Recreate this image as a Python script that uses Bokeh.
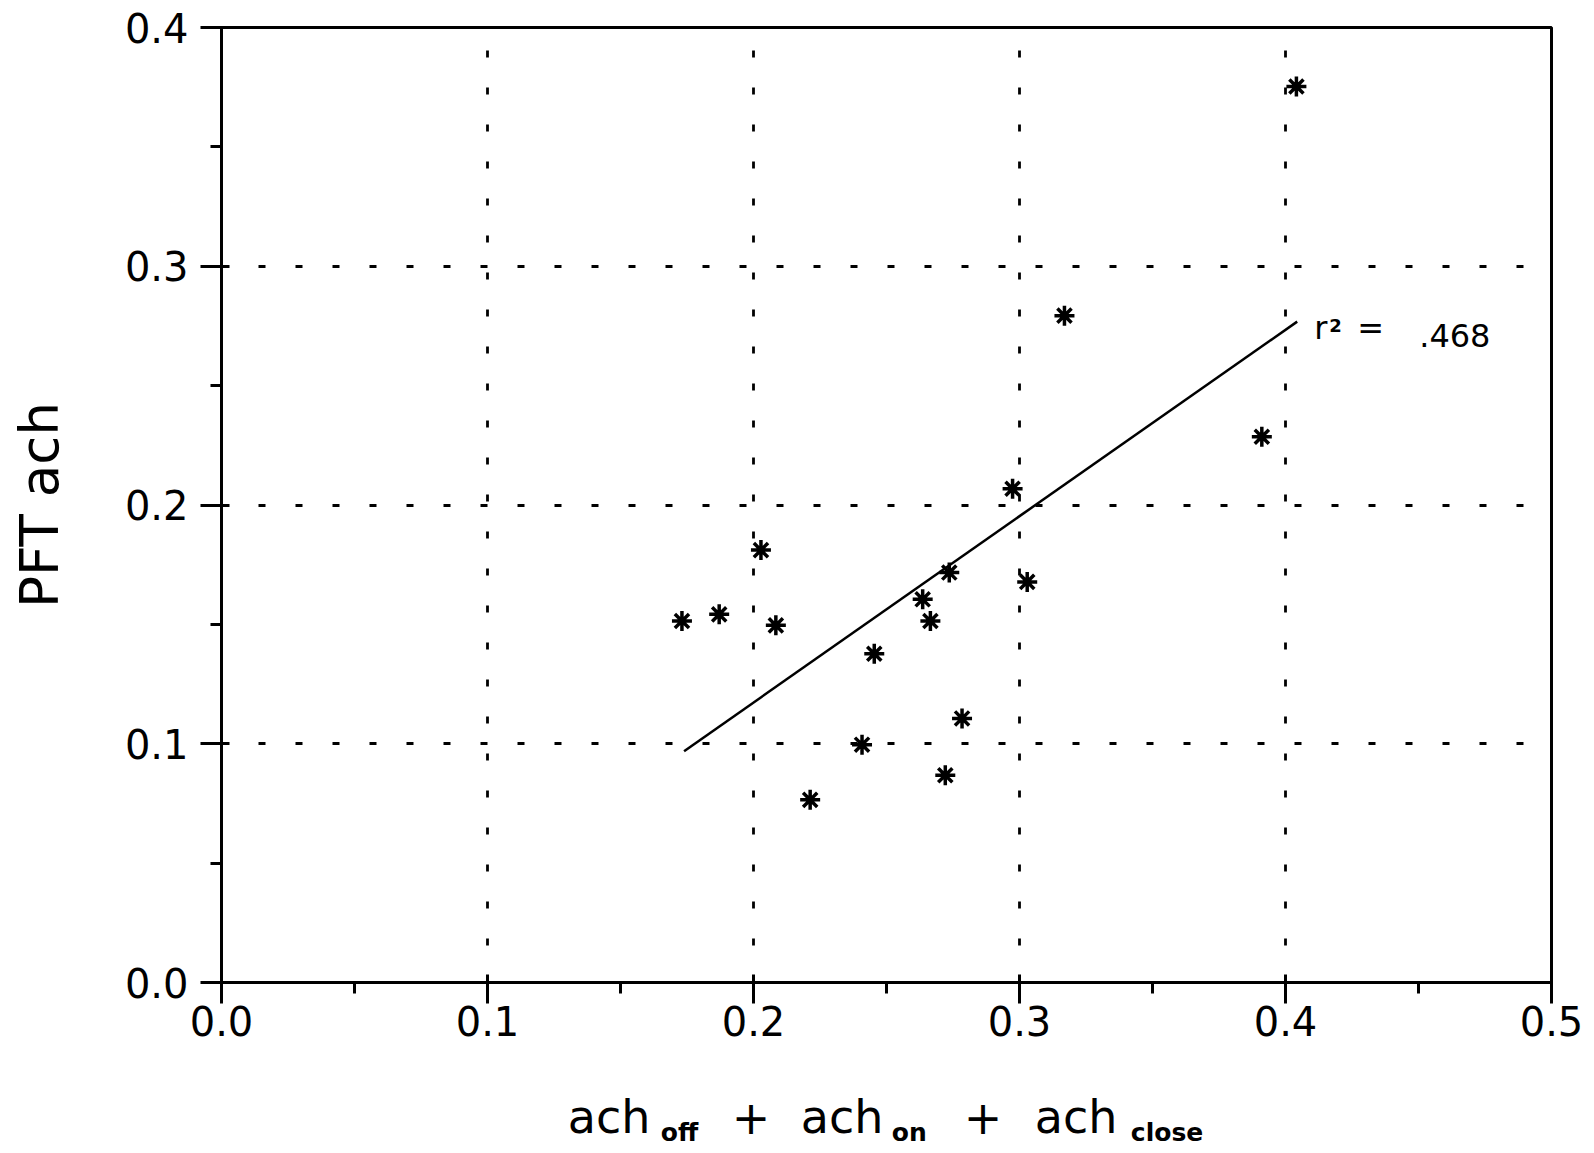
from bokeh.plotting import figure
from bokeh.layouts import column
from bokeh.models import Range1d, FixedTicker, PrintfTickFormatter, Label
from bokeh.core.properties import value
from bokeh.embed import file_html
from bokeh.resources import INLINE

# ---- data ----
x_vals = [0.1731, 0.1871, 0.2028, 0.2084, 0.2213, 0.2408, 0.2454, 0.2636, 0.2665,
          0.2736, 0.2721, 0.2784, 0.2974, 0.3029, 0.3169, 0.3911, 0.4041]
y_vals = [0.1514, 0.1542, 0.1811, 0.1496, 0.0765, 0.0996, 0.1377, 0.1605, 0.1514,
          0.1717, 0.0868, 0.1106, 0.2068, 0.1678, 0.2793, 0.2286, 0.3753]
fit_x = [0.1739, 0.4044]
fit_y = [0.0969, 0.2768]
r2_text = ".468"
x_ticks = [0.0, 0.1, 0.2, 0.3, 0.4, 0.5]
y_ticks = [0.0, 0.1, 0.2, 0.3, 0.4]
x_minor = [0.05, 0.15, 0.25, 0.35, 0.45]
y_minor = [0.05, 0.15, 0.25, 0.35]
y_label = "PFT ach"
x_label_main = ["ach", "+", "ach", "+", "ach"]
x_label_subs = ["off", "on", "close"]

FONT = "DejaVu Sans"
W = 1594
H_MAIN = 1080
H_LABEL = 1153 - H_MAIN

xr = Range1d(0, 0.5)
p = figure(width=W, height=H_MAIN, output_backend="svg", toolbar_location=None,
           title=None, x_range=xr, y_range=Range1d(0, 0.4),
           min_border_left=221, min_border_right=43, min_border_top=27,
           min_border_bottom=H_MAIN - 982)
p.background_fill_color = "white"
p.border_fill_color = "white"
p.outline_line_color = "black"
p.outline_line_width = 3

# axes
p.xaxis.ticker = FixedTicker(ticks=x_ticks, minor_ticks=x_minor)
p.yaxis.ticker = FixedTicker(ticks=y_ticks, minor_ticks=y_minor)
p.xaxis.formatter = PrintfTickFormatter(format="%.1f")
p.yaxis.formatter = PrintfTickFormatter(format="%.1f")
for ax in (p.xaxis, p.yaxis):
    ax.axis_line_color = "black"
    ax.axis_line_width = 3
    ax.major_tick_line_color = "black"
    ax.major_tick_line_width = 3
    ax.minor_tick_line_color = "black"
    ax.minor_tick_line_width = 3
    ax.major_tick_out = 21
    ax.major_tick_in = 8
    ax.minor_tick_out = 11
    ax.minor_tick_in = 0
    ax.major_label_text_font = FONT
    ax.major_label_text_color = "black"
p.xaxis.major_label_text_font_size = "40px"
p.yaxis.major_label_text_font_size = "40px"
p.xaxis.major_label_standoff = 2
p.yaxis.major_label_standoff = 12

p.yaxis.axis_label = y_label
p.yaxis.axis_label_text_font = FONT
p.yaxis.axis_label_text_font_size = "53px"
p.yaxis.axis_label_text_font_style = "normal"
p.yaxis.axis_label_text_color = "black"
p.yaxis.axis_label_standoff = 52

# grid
p.xgrid.ticker = FixedTicker(ticks=x_ticks[1:-1])
p.ygrid.ticker = FixedTicker(ticks=y_ticks[1:-1])
for g in (p.xgrid, p.ygrid):
    g.grid_line_color = "black"
    g.grid_line_width = 2.8
    g.grid_line_dash = "7 30"

# data
p.line(fit_x, fit_y, line_color="black", line_width=2.5)
p.scatter(x_vals, y_vals, marker="asterisk", size=20, line_color="black",
          line_width=3.5)

# r^2 annotation
p.add_layout(Label(x=fit_x[1], y=0.266, x_offset=17, text="r",
                   text_font=FONT, text_font_size="32px", text_color="black"))
p.add_layout(Label(x=fit_x[1], y=0.2723, x_offset=32, text="2",
                   text_font=FONT, text_font_size="18px", text_font_style="bold",
                   text_color="black"))
p.add_layout(Label(x=fit_x[1], y=0.266, x_offset=60, text="=",
                   text_font=FONT, text_font_size="32px", text_color="black"))
p.add_layout(Label(x=fit_x[1], y=0.266, x_offset=122, text=r2_text,
                   text_font=FONT, text_font_size="32px", text_color="black"))

# x-axis label strip (main text + bold subscripts)
q = figure(width=W, height=H_LABEL, output_backend="svg", toolbar_location=None,
           title=None, x_range=xr, y_range=Range1d(0, H_LABEL),
           x_axis_type=None, y_axis_type=None,
           min_border_left=221, min_border_right=43, min_border_top=0,
           min_border_bottom=0)
q.grid.visible = False
q.outline_line_color = None
q.background_fill_color = "white"
q.border_fill_color = "white"

anchor_x = 0.1302
main_off = [0, 164, 233, 396, 467]
sub_off = [93, 324, 563]
q.text(x=[anchor_x] * len(x_label_main), y=[37] * len(x_label_main),
       text=x_label_main, x_offset=main_off,
       text_font=value(FONT), text_font_size="46px", text_color="black",
       text_baseline="alphabetic", text_align="left")
q.text(x=[anchor_x] * len(x_label_subs), y=[21] * len(x_label_subs),
       text=x_label_subs, x_offset=sub_off,
       text_font=value(FONT), text_font_size="25px", text_font_style="bold",
       text_color="black", text_baseline="alphabetic", text_align="left")

layout = column(p, q, spacing=0)
open("out.html", "w").write(file_html(layout, INLINE))
